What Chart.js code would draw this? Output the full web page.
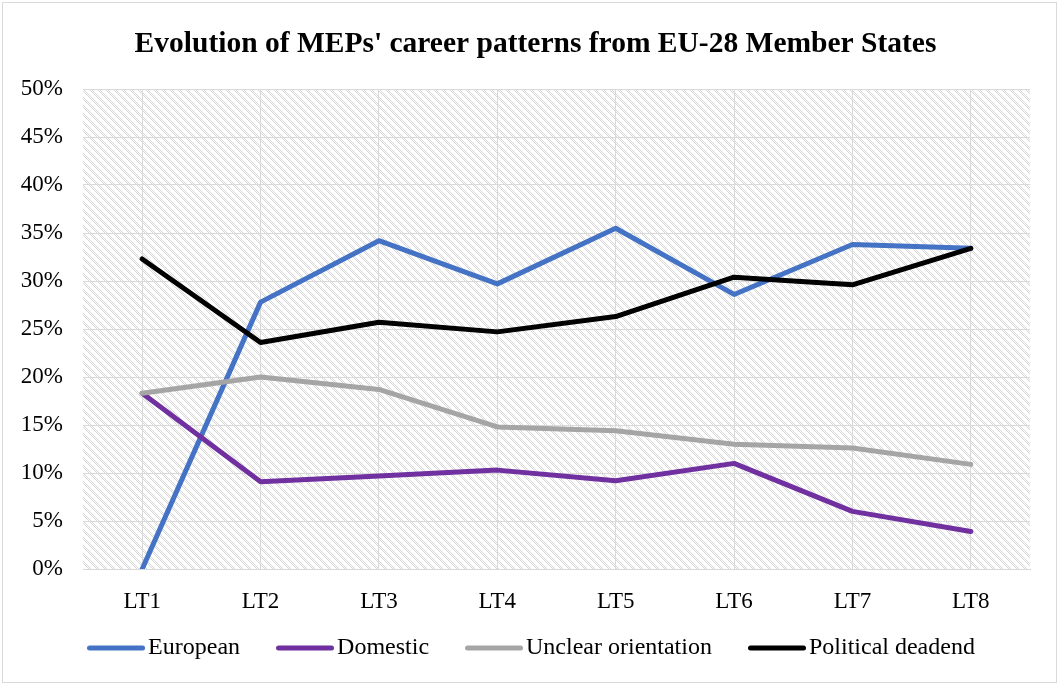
<!DOCTYPE html>
<html>
<head>
<meta charset="utf-8">
<script src="https://cdn.jsdelivr.net/npm/chart.js@4"></script>
<style>
html,body{margin:0;padding:0;background:#fff;}
#wrap{width:1059px;height:684px;position:relative;}
</style>
</head>
<body>
<div id="wrap"><canvas id="c" width="1059" height="684"></canvas></div>
<script>
const categories = ["LT1","LT2","LT3","LT4","LT5","LT6","LT7","LT8"];
const european = [0, 27.8, 34.2, 29.7, 35.5, 28.6, 33.8, 33.4];
const domestic = [18.3, 9.1, 9.7, 10.3, 9.2, 11.0, 6.0, 3.9];
const unclear = [18.3, 20.0, 18.7, 14.8, 14.4, 13.0, 12.6, 10.9];
const deadend = [32.3, 23.6, 25.7, 24.7, 26.3, 30.4, 29.6, 33.4];
const yTicks = [0,5,10,15,20,25,30,35,40,45,50];
const seriesNames = ["European","Domestic","Unclear orientation","Political deadend"];

// hatch pattern
const tile = document.createElement('canvas');
tile.width = 8; tile.height = 8;
const tctx = tile.getContext('2d');
const img = tctx.createImageData(8,8);
for (let y=0;y<8;y++){ for(let x=0;x<8;x++){
  const d = ((x - y) % 8 + 8) % 8;
  const on = d < 4 && ((x + y) % 2 === 0);
  const i = (y*8+x)*4;
  const v = on ? 216 : 255;
  img.data[i]=v; img.data[i+1]=v; img.data[i+2]=v; img.data[i+3]=255;
}}
tctx.putImageData(img,0,0);

function legendLine(color){
  const c = document.createElement('canvas');
  c.width = 58; c.height = 8;
  const g = c.getContext('2d');
  g.strokeStyle = color; g.lineWidth = 5; g.lineCap = 'round';
  g.beginPath(); g.moveTo(2.5,4); g.lineTo(55.5,4); g.stroke();
  return c;
}

const bgPlugin = {
  id: 'bg',
  beforeDraw(chart){
    const ctx = chart.ctx, a = chart.chartArea;
    ctx.save();
    ctx.fillStyle = '#fff';
    ctx.fillRect(0,0,chart.width,chart.height);
    ctx.fillStyle = ctx.createPattern(tile,'repeat');
    ctx.fillRect(a.left, a.top, a.right-a.left, a.bottom-a.top);
    ctx.strokeStyle = '#d9d9d9';
    ctx.lineWidth = 1;
    ctx.strokeRect(2.5, 2.5, chart.width-5, chart.height-4);
    ctx.restore();
  }
};

// place legend row at the reference's height
const legendPos = {
  id: 'legendPos',
  afterLayout(chart){
    const lg = chart.legend;
    if (!lg) return;
    const h = lg.bottom - lg.top;
    lg.top = 591;
    lg.bottom = 591 + h;
  }
};

const colors = ['#4472C4','#7030A0','#A5A5A5','#000000'];
const dataArrays = [european, domestic, unclear, deadend];
const datasets = dataArrays.map((d,i)=>({
  label: seriesNames[i],
  data: d,
  borderColor: colors[i],
  backgroundColor: colors[i],
  borderWidth: 5,
  borderCapStyle: 'round',
  borderJoinStyle: 'round',
  pointRadius: 0,
  pointHoverRadius: 0,
  tension: 0,
  fill: false,
  order: 4 - i,
  pointStyle: legendLine(colors[i])
}));

const FONT = "'Liberation Serif', 'Times New Roman', serif";

new Chart(document.getElementById('c'), {
  type: 'line',
  data: { labels: categories, datasets },
  plugins: [bgPlugin, legendPos],
  options: {
    responsive: false,
    animation: false,
    layout: { padding: { left: 12, right: 0, top: 0, bottom: -10 } },
    plugins: {
      tooltip: { enabled: false },
      title: {
        display: true,
        text: "Evolution of MEPs' career patterns from EU-28 Member States",
        color: '#000',
        font: { family: FONT, size: 29.5, weight: 'bold', lineHeight: 1.2 },
        padding: { top: 27, bottom: 26.6 }
      },
      legend: {
        position: 'bottom',
        labels: {
          usePointStyle: true,
          pointStyleWidth: 40,
          boxHeight: 8,
          color: '#000',
          font: { family: FONT, size: 24 },
          padding: 45,
          sort: (a,b) => a.datasetIndex - b.datasetIndex
        }
      }
    },
    scales: {
      x: {
        offset: true,
        grid: { offset: false, color: '#d9d9d9', drawTicks: false },
        border: { display: true, color: '#d9d9d9', width: 1 },
        ticks: { color: '#000', font: { family: FONT, size: 23 }, padding: 19 },
        afterFit(s){ s.height = 46; }
      },
      y: {
        min: 0, max: 50,
        afterBuildTicks(s){ s.ticks = yTicks.map(v=>({value:v})); },
        grid: { color: '#d9d9d9', drawTicks: false },
        border: { display: false },
        ticks: { color: '#000', font: { family: FONT, size: 23 }, padding: 20,
          callback: v => v + '%' },
        afterFit(s){ s.width = 71; }
      },
      yr: {
        position: 'right',
        display: true,
        grid: { display: false, drawOnChartArea: false },
        border: { display: false },
        ticks: { display: false },
        afterFit(s){ s.width = 29; }
      }
    }
  }
});
</script>
</body>
</html>
